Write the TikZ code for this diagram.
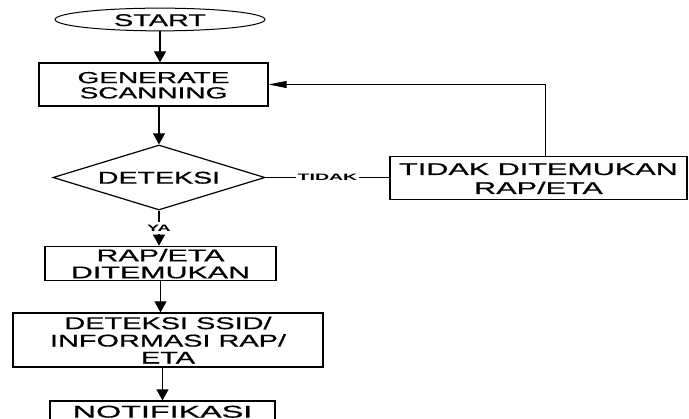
\documentclass[tikz,border=0pt]{standalone}
\usepackage{fontspec}
\setmainfont{Liberation Sans}
\newfontfamily\thickfont[FakeBold=0.6]{Liberation Sans}
\usetikzlibrary{shapes.geometric,arrows.meta}
\newcommand\lbl[4]{\raisebox{-2.7pt}[\height][\depth]{\scalebox{#1}[1]{\thickfont\fontsize{#2}{#3}\selectfont\begin{tabular}{@{}c@{}}#4\end{tabular}}}}
\newcommand\blbl[2]{\scalebox{#1}[1]{\fontsize{9.3}{10}\selectfont\bfseries #2}}
\begin{document}
\begin{tikzpicture}[x=1pt,y=-1pt,
  box/.style={draw, line width=1.2pt, rectangle, inner sep=0pt},
  arr/.style={line width=1.1pt, -{Triangle[length=11pt,width=12pt]}},
  fbarr/.style={line width=0.8pt, -{Triangle[length=18pt,width=7pt]}},
  lab/.style={fill=white, inner xsep=2pt, inner ysep=3pt}]
\useasboundingbox (0,0) rectangle (689,419);
\node[draw, ellipse, line width=1pt, minimum width=210pt, minimum height=21pt, inner sep=0pt] (start) at (160,19.5) {\lbl{1.7}{17}{14}{START}};
\node[box, minimum width=229pt, minimum height=43pt] (gen) at (153.5,84.5) {\lbl{1.75}{16}{13.5}{GENERATE\\SCANNING}};
\node[draw, diamond, line width=1.2pt, minimum width=212pt, minimum height=65pt, inner sep=0pt, aspect=3.26] (det) at (159,177.5) {\lbl{1.68}{17}{17}{DETEKSI}};
\node[box, minimum width=297pt, minimum height=43pt] (tidak) at (538.5,178) {\lbl{1.8}{17}{19}{TIDAK DITEMUKAN\\RAP/ETA}};
\node[box, minimum width=231pt, minimum height=33pt] (rap) at (160.5,263.5) {\lbl{1.79}{17}{17}{RAP/ETA\\DITEMUKAN}};
\node[box, minimum width=310pt, minimum height=54pt] (ssid) at (168,340) {\lbl{1.7}{17}{17}{DETEKSI SSID/\\INFORMASI RAP/\\ETA}};
\node[box, minimum width=225pt, minimum height=21pt] (notif) at (162.5,411.5) {\lbl{1.9}{17}{17}{NOTIFIKASI}};
\coordinate (fb) at (545,0);
\draw[arr] (start.south) -- (start.south |- gen.north);
\draw[arr] (det.north |- gen.south) -- (det.north);
\draw[arr] (det.south) -- node[lab] {\blbl{1.95}{YA}} (det.south |- rap.north);
\draw[arr] (rap.south) -- (rap.south |- ssid.north);
\draw[arr] (notif.north |- ssid.south) -- (notif.north);
\draw[line width=0.8pt] (det.east) -- node[lab, inner ysep=1pt] {\blbl{2.1}{TIDAK}} (det.east -| tidak.west);
\draw[fbarr] (tidak.north -| fb) |- (gen.east);
\end{tikzpicture}
\end{document}
